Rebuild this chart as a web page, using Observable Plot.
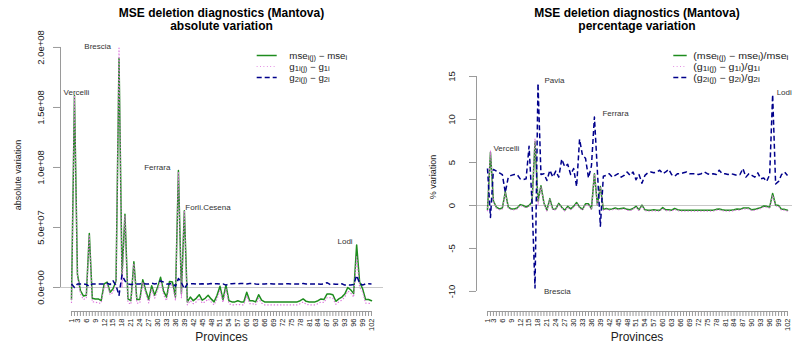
<!DOCTYPE html>
<html><head><meta charset="utf-8">
<script src="https://cdn.jsdelivr.net/npm/d3@7"></script>
<script src="https://cdn.jsdelivr.net/npm/@observablehq/plot@0.6"></script>
<style>
html,body{margin:0;padding:0;background:#fff;}
#wrap{position:relative;width:792px;height:347px;overflow:hidden;background:#fff;}
#wrap > svg{position:absolute;top:0;}
</style></head>
<body><div id="wrap"></div>
<script>
// ---------- DATA ----------
// province index labels shown on the x axis
const xTickLabels = [1,3,6,9,12,15,18,21,24,27,30,33,36,39,42,45,48,51,54,57,60,63,66,69,72,75,78,81,84,87,90,93,96,99,102];

// absolute variation (units of 1e7)
const mseAbs = [-1.0,16.0,1.1,-0.25,-0.7,-0.65,4.5,-0.9,-0.95,-0.95,
 -1.1,0.3,0.45,-0.4,-0.1,0.55,19.1,1.0,6.1,-0.95,
 -1.1,2.15,-1.0,-1.0,0.65,-0.25,-1.0,0.15,-0.65,0.05,
 0.85,-0.3,-0.8,0.5,0.45,-0.8,9.75,-0.5,6.4,-1.2,
 -0.8,-1.1,-0.9,-0.6,-1.05,-0.9,-0.65,-0.95,-1.2,-0.65,
 0.1,-1.0,0.2,-1.1,-1.2,-1.2,-1.1,-1.2,-1.2,-0.4,
 -1.1,-1.1,-1.2,-0.6,-1.05,-1.2,-1.2,-1.2,-1.2,-1.2,
 -1.2,-1.2,-1.2,-1.2,-1.2,-1.2,-1.2,-1.1,-0.95,-1.15,
 -1.2,-1.2,-1.2,-1.1,-0.95,-1.0,-0.55,-0.55,-0.6,-1.15,
 -0.95,-0.8,-0.55,0.0,-0.2,-0.5,3.55,0.45,-0.1,-1.0,
 -1.0,-1.1];
const g1Abs = [-1.25,16.0,1.0,-0.5,-1.0,-0.9,4.4,-1.2,-1.2,-1.3,
 -1.3,0.1,0.25,-0.6,-0.4,0.3,19.95,0.0,6.0,-1.25,
 -1.4,2.0,-1.3,-1.3,0.45,-0.5,-1.3,-0.1,-0.9,-0.2,
 0.6,-0.6,-1.1,0.2,0.2,-1.1,9.65,-0.9,6.4,-1.45,
 -1.1,-1.35,-1.2,-0.9,-1.3,-1.2,-0.95,-1.2,-1.45,-0.95,
 -0.2,-1.25,-0.1,-1.35,-1.45,-1.45,-1.4,-1.45,-1.45,-0.7,
 -1.35,-1.35,-1.45,-0.9,-1.3,-1.45,-1.45,-1.45,-1.45,-1.45,
 -1.45,-1.45,-1.45,-1.45,-1.45,-1.45,-1.45,-1.35,-1.2,-1.4,
 -1.45,-1.45,-1.45,-1.35,-1.2,-1.25,-0.85,-0.85,-0.9,-1.4,
 -1.2,-1.05,-0.8,-0.3,-0.45,-0.8,2.55,0.0,-0.35,-1.3,
 -1.3,-1.4];
const g2Abs = [0.3,0.0,0.3,0.3,0.3,0.25,0.1,0.3,0.3,0.3,
 0.3,0.3,0.35,0.25,0.55,0.15,-0.65,1.05,0.55,0.3,
 0.25,0.3,0.3,0.3,0.35,0.3,0.3,0.35,0.3,0.35,
 0.55,0.45,0.3,0.3,0.35,0.1,0.75,0.4,-0.1,0.3,
 0.3,0.32,0.28,0.3,0.32,0.28,0.3,0.33,0.3,0.32,
 0.28,0.3,0.2,0.3,0.32,0.33,0.32,0.33,0.34,0.3,
 0.33,0.35,0.3,0.28,0.3,0.3,0.31,0.32,0.3,0.3,
 0.3,0.29,0.3,0.32,0.3,0.29,0.3,0.29,0.34,0.3,
 0.3,0.29,0.3,0.29,0.28,0.29,0.4,0.26,0.3,0.28,
 0.26,0.31,0.2,0.22,0.2,0.25,1.0,0.35,0.2,0.3,
 0.31,0.29];

// percentage variation
const msePct = [-0.5,6.2,0.5,-0.2,-0.4,-0.3,1.6,-0.2,-0.4,-0.4,
 -0.3,0.1,0.0,-0.2,0.0,0.4,7.4,0.5,2.3,0.3,
 -0.55,0.8,-0.45,-0.4,0.25,-0.2,-0.55,-0.1,-0.4,-0.1,
 0.35,-0.2,-0.45,0.2,0.2,-0.4,3.7,0.1,2.2,-0.45,
 -0.35,-0.45,-0.4,-0.3,-0.4,-0.35,-0.3,-0.45,-0.5,-0.35,
 -0.1,-0.5,0.05,-0.5,-0.55,-0.55,-0.5,-0.55,-0.55,-0.25,
 -0.5,-0.5,-0.55,-0.35,-0.5,-0.55,-0.55,-0.55,-0.55,-0.55,
 -0.55,-0.55,-0.55,-0.55,-0.55,-0.55,-0.55,-0.45,-0.4,-0.5,
 -0.55,-0.55,-0.55,-0.5,-0.4,-0.45,-0.3,-0.3,-0.3,-0.5,
 -0.45,-0.35,-0.25,-0.05,-0.1,-0.2,1.4,0.05,0.0,-0.45,
 -0.45,-0.55];
const g1Pct = [-0.6,6.4,0.45,-0.3,-0.5,-0.4,1.5,-0.3,-0.5,-0.5,
 -0.4,0.0,-0.1,-0.3,-0.1,0.3,7.8,0.0,2.2,0.2,
 -0.65,0.7,-0.55,-0.5,0.15,-0.3,-0.65,-0.2,-0.5,-0.2,
 0.25,-0.3,-0.55,0.1,0.1,-0.5,3.7,0.0,2.2,-0.55,
 -0.45,-0.55,-0.5,-0.4,-0.5,-0.45,-0.4,-0.55,-0.6,-0.45,
 -0.2,-0.6,-0.05,-0.6,-0.65,-0.65,-0.6,-0.65,-0.65,-0.35,
 -0.6,-0.6,-0.65,-0.45,-0.6,-0.65,-0.65,-0.65,-0.65,-0.65,
 -0.65,-0.65,-0.65,-0.65,-0.65,-0.65,-0.65,-0.55,-0.5,-0.6,
 -0.65,-0.65,-0.65,-0.6,-0.5,-0.55,-0.4,-0.4,-0.4,-0.6,
 -0.55,-0.45,-0.35,-0.15,-0.2,-0.3,1.2,-0.05,-0.1,-0.55,
 -0.55,-0.65];
const g2Pct = [4.3,-1.4,4.2,4.0,3.8,3.6,1.5,3.3,3.5,3.6,
 3.6,3.1,3.0,3.1,6.9,0.3,-9.6,14.2,3.6,3.7,
 2.9,4.1,3.3,4.0,3.3,5.4,4.5,4.8,3.6,4.3,
 2.2,7.7,5.8,5.5,3.2,4.6,10.3,4.0,-2.4,3.4,
 3.5,3.7,3.3,3.5,3.7,3.3,3.5,3.9,3.5,3.9,
 3.0,3.6,2.6,3.5,3.8,3.9,3.8,3.9,4.1,3.7,
 3.9,4.2,3.6,3.4,3.7,3.7,3.8,3.9,3.7,3.7,
 3.7,3.6,3.7,3.9,3.7,3.6,3.7,3.6,4.1,3.7,
 3.7,3.6,3.7,3.6,3.5,3.6,4.3,3.3,3.7,3.5,
 3.3,3.8,3.1,3.2,2.8,3.6,12.9,2.5,2.8,3.6,
 3.9,3.5];

// axis ticks
const yTicksAbs = [0, 5e7, 1e8, 1.5e8, 2e8];
const yTickLabelsAbs = ["0.0e+00","5.0e+07","1.0e+08","1.5e+08","2.0e+08"];
const yTicksPct = [-10, -5, 0, 5, 10, 15];
const yTickLabelsPct = ["-10","-5","0","5","10","15"];

// labelled provinces: name, index, series the label refers to
const labelsAbs = [
  {name: "Vercelli", i: 2, s: mseAbs},
  {name: "Brescia", i: 17, s: g1Abs},
  {name: "Ferrara", i: 37, s: mseAbs},
  {name: "Forli.Cesena", i: 39, s: mseAbs},
  {name: "Lodi", i: 97, s: mseAbs}
];
const labelsPct = [
  {name: "Vercelli", i: 2, s: g1Pct},
  {name: "Pavia", i: 18, s: g2Pct},
  {name: "Ferrara", i: 37, s: g2Pct},
  {name: "Brescia", i: 17, s: g2Pct},
  {name: "Lodi", i: 97, s: g2Pct}
];

// ---------- STYLE ----------
const FAM = "'Liberation Sans', Arial, Helvetica, sans-serif";
const GREEN = "#1e8c1e", PINK = "#dd77dd", BLUE = "#00008b", AX = "#9a9a9a", ZERO = "#c8c8c8";
const labelStyleAbs = {
  "Vercelli": {textAnchor: "middle", dx: 2, dy: -2.7},
  "Brescia": {textAnchor: "end", dx: -8, dy: -1.5},
  "Ferrara": {textAnchor: "end", dx: -8, dy: -3},
  "Forli.Cesena": {textAnchor: "start", dx: 1, dy: -3},
  "Lodi": {textAnchor: "end", dx: -4, dy: -3}
};
const labelStylePct = {
  "Vercelli": {textAnchor: "start", dx: 3, dy: -2.3},
  "Pavia": {textAnchor: "start", dx: 6.5, dy: -3},
  "Ferrara": {textAnchor: "start", dx: 8, dy: -3.4},
  "Brescia": {textAnchor: "start", dx: 9, dy: 3.4},
  "Lodi": {textAnchor: "start", dx: 4, dy: -1.7}
};

const idx = d3.range(1, mseAbs.length + 1);
const xLabelSet = new Set(xTickLabels);
const xDom = [-2.70, 106.04];

function panel(cfg) {
  const {series, mult, yDomain, yTicks, yTickLabels, labels, labelStyle, width, marginLeft, marginRight, tickPadding} = cfg;
  const acc = (d, i) => i + 1;
  const labelMarks = labels.map(l => Plot.text([{x: l.i, y: l.s[l.i - 1] * mult, t: l.name}], {
    x: "x", y: "y", text: "t", fontSize: 8, fill: "#333", lineAnchor: "middle", fontFamily: FAM,
    ...labelStyle[l.name]
  }));
  return Plot.plot({
    width, height: 347, marginLeft, marginRight, marginTop: 40, marginBottom: 36,
    x: {domain: xDom},
    y: {domain: yDomain},
    style: {background: "transparent", fontFamily: FAM, overflow: "visible"},
    marks: [
      Plot.ruleY([0], {stroke: ZERO, strokeWidth: 1}),
      Plot.line(series[0], {x: acc, y: d => d * mult, stroke: GREEN, strokeWidth: 1.5}),
      Plot.line(series[1], {x: acc, y: d => d * mult, stroke: PINK, strokeWidth: 1.2, strokeDasharray: "0.4,2.8"}),
      Plot.line(series[2], {x: acc, y: d => d * mult, stroke: BLUE, strokeWidth: 1.5, strokeDasharray: "5,3", strokeLinecap: "butt"}),
      Plot.ruleX([xDom[0]], {y1: yTicks[0], y2: yTicks[yTicks.length - 1], stroke: AX, strokeWidth: 1}),
      Plot.axisY({ticks: yTicks, tickFormat: d => yTickLabels[yTicks.indexOf(d)], tickSize: 7, tickPadding,
        tickRotate: -90, textAnchor: "middle", lineAnchor: "bottom", fontSize: 9.5, stroke: AX, fill: "#222", label: null}),
      Plot.ruleY([yDomain[0]], {x1: 1, x2: idx.length, stroke: AX, strokeWidth: 1}),
      Plot.axisX({ticks: idx, tickFormat: d => xLabelSet.has(d) ? String(d) : "", tickSize: 5, tickPadding: 2,
        tickRotate: -90, textAnchor: "end", lineAnchor: "middle", fontSize: 7.5, stroke: AX, fill: "#222", label: null}),
      ...labelMarks
    ]
  });
}

const wrap = document.getElementById("wrap");
const left = panel({
  series: [mseAbs, g1Abs, g2Abs], mult: 1e7, yDomain: [-2.0e7, 2.058e8],
  yTicks: yTicksAbs, yTickLabels: yTickLabelsAbs, labels: labelsAbs, labelStyle: labelStyleAbs,
  width: 396, marginLeft: 60, marginRight: 13, tickPadding: 10
});
left.style.left = "0px";
wrap.appendChild(left);
const right = panel({
  series: [msePct, g1Pct, g2Pct], mult: 1, yDomain: [-12.33, 19.19],
  yTicks: yTicksPct, yTickLabels: yTickLabelsPct, labels: labelsPct, labelStyle: labelStylePct,
  width: 420, marginLeft: 80, marginRight: 17, tickPadding: 15
});
right.style.left = "396px";
wrap.appendChild(right);

// ---------- overlay: titles, axis titles, legends ----------
const NS = "http://www.w3.org/2000/svg";
const ov = document.createElementNS(NS, "svg");
ov.setAttribute("width", 792); ov.setAttribute("height", 347);
ov.style.left = "0px"; ov.style.fontFamily = FAM;
wrap.appendChild(ov);
const SUB = 1.5, SUBSCALE = 0.78;
function txt(x, y, s, o = {}) {
  const t = document.createElementNS(NS, "text");
  const size = o.size || 10;
  t.setAttribute("text-anchor", o.anchor || "middle");
  t.setAttribute("font-size", size);
  if (o.weight) t.setAttribute("font-weight", o.weight);
  t.setAttribute("fill", o.fill || "#111");
  if (o.rotate) {
    t.setAttribute("x", x); t.setAttribute("y", y);
    t.setAttribute("transform", `rotate(${o.rotate},${x},${y})`);
  } else if (o.stretch) {
    t.setAttribute("x", 0); t.setAttribute("y", 0);
    t.setAttribute("transform", `translate(${x},${y}) scale(${o.stretch},1)`);
  } else {
    t.setAttribute("x", x); t.setAttribute("y", y);
  }
  if (Array.isArray(s)) {
    let shifted = false;
    for (const [str, sub] of s) {
      const sp = document.createElementNS(NS, "tspan");
      sp.textContent = str;
      if (sub) {
        sp.setAttribute("font-size", size * SUBSCALE);
        if (!shifted) { sp.setAttribute("dy", SUB); shifted = true; }
      } else if (shifted) { sp.setAttribute("dy", -SUB); shifted = false; }
      t.appendChild(sp);
    }
  } else t.textContent = s;
  ov.appendChild(t);
  return t;
}
function seg(x1, x2, y, stroke, dash, w) {
  const l = document.createElementNS(NS, "line");
  l.setAttribute("x1", x1); l.setAttribute("x2", x2); l.setAttribute("y1", y); l.setAttribute("y2", y);
  l.setAttribute("stroke", stroke); l.setAttribute("stroke-width", w);
  if (dash) l.setAttribute("stroke-dasharray", dash);
  ov.appendChild(l);
}
const titleMain = "MSE deletion diagnostics (Mantova)";
const subtitles = ["absolute variation", "percentage variation"];
const yTitles = ["absolute variation", "% variation"];
const xTitle = "Provinces";
const legendAbs = [
  [["mse",0],["i(j)",1],[" \u2212 mse",0],["i",1]],
  [["g",0],["1i(j)",1],[" \u2212 g",0],["1i",1]],
  [["g",0],["2i(j)",1],[" \u2212 g",0],["2i",1]]
];
const legendPct = [
  [["(mse",0],["i(j)",1],[" \u2212 mse",0],["i",1],[")/mse",0],["i",1]],
  [["(g",0],["1i(j)",1],[" \u2212 g",0],["1i",1],[")/g",0],["1i",1]],
  [["(g",0],["2i(j)",1],[" \u2212 g",0],["2i",1],[")/g",0],["2i",1]]
];
const legStyles = [[GREEN, null, 1.5], [PINK, "0.8,2.6", 1.2], [BLUE, "5,3", 1.5]];

const centers = [221.5, 637];
centers.forEach((cx, k) => {
  txt(cx, 16.5, titleMain, {size: 12, weight: "bold", fill: "#000"});
  txt(cx, 29.5, subtitles[k], {size: 12, weight: "bold", fill: "#000"});
  txt(cx, 341, xTitle, {size: 12, fill: "#222"});
});
txt(20.5, 175, yTitles[0], {size: 9, rotate: -90, fill: "#222"});
txt(435.5, 177, yTitles[1], {size: 9, rotate: -90, fill: "#222"});

const legRowsY = [55.5, 66.5, 77.5];
legendAbs.forEach((parts, k) => {
  seg(256.7, 276.7, legRowsY[k], ...legStyles[k]);
  txt(289.3, legRowsY[k] + 3, parts, {anchor: "start", size: 9, fill: "#222", stretch: 1.08});
});
legendPct.forEach((parts, k) => {
  seg(673.3, 686.7, legRowsY[k], ...legStyles[k]);
  txt(693.3, legRowsY[k] + 3, parts, {anchor: "start", size: 9, fill: "#222", stretch: 1.18});
});
</script>
</body></html>
